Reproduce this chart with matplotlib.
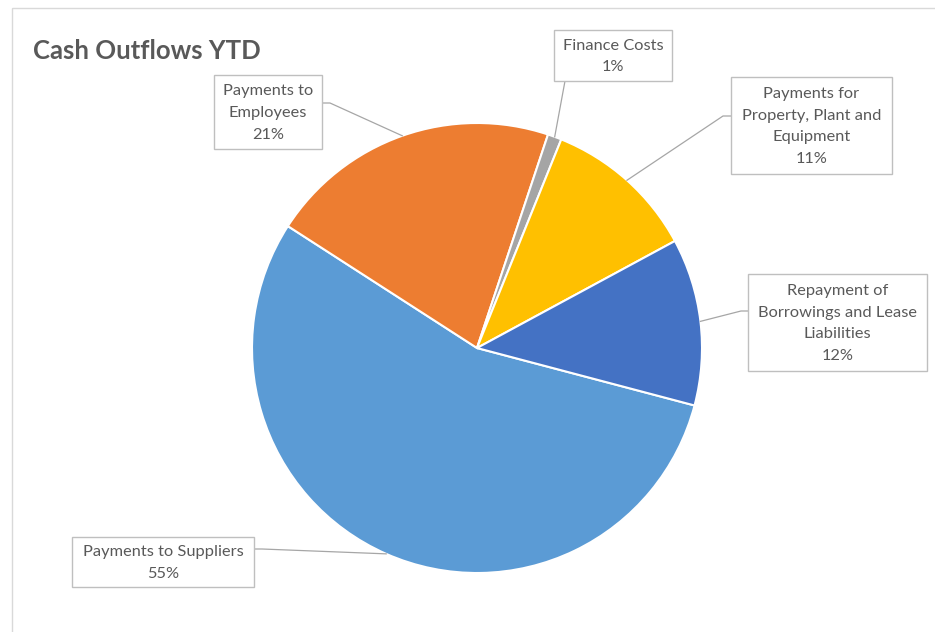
import matplotlib.pyplot as plt
from matplotlib.patches import Rectangle
import numpy as np

plt.rcParams['font.family'] = ['Lato', 'DejaVu Sans']

# cash outflows, in the order the slices run clockwise
categories = ['Payments to Suppliers', 'Payments to Employees', 'Finance Costs',
              'Payments for Property, Plant and Equipment',
              'Repayment of Borrowings and Lease Liabilities']
shares = [55, 21, 1, 11, 12]
label_text = ['Payments to Suppliers\n55%',
              'Payments to\nEmployees\n21%',
              'Finance Costs\n1%',
              'Payments for\nProperty, Plant and\nEquipment\n11%',
              'Repayment of\nBorrowings and Lease\nLiabilities\n12%']
colors = ['#5B9BD5', '#ED7D31', '#A5A5A5', '#FFC000', '#4472C4']

W, H = 935, 632
fig = plt.figure(figsize=(W / 100, H / 100), dpi=100)
ax = fig.add_axes([0, 0, 1, 1])

cx, cy, r = 477, 348, 225
wedges, _ = ax.pie(shares, colors=colors, startangle=14.8, counterclock=True,
                   center=(cx, cy), radius=r, frame=True,
                   wedgeprops=dict(edgecolor='white', linewidth=1.5))
ax.set_xlim(0, W)
ax.set_ylim(H, 0)
ax.set_aspect('equal')
ax.axis('off')

# chart area border
ax.add_patch(Rectangle((12, 8), 960, 700, fill=False, ec='#D9D9D9', lw=1))

# label boxes (x0, y0, x1, y1) and the elbow where the leader leaves the box
boxes = [(72, 537, 254, 587), (214, 75, 322, 149), (554, 30, 672, 81),
         (731, 77, 892, 174), (748, 274, 927, 371)]
elbows = [[(254, 549), (262, 549)], [(322, 103), (330, 103)],
          [(565, 81)], [(731, 116), (723, 116)], [(748, 311), (741, 311)]]

for w, txt, (x0, y0, x1, y1), elb in zip(wedges, label_text, boxes, elbows):
    mid = np.deg2rad((w.theta1 + w.theta2) / 2)
    ax_pt = (cx + r * np.cos(mid), cy + r * np.sin(mid))
    pts = elb + [ax_pt]
    ax.plot([p[0] for p in pts], [p[1] for p in pts], color='#A6A6A6', lw=0.9, zorder=1)
    ax.add_patch(Rectangle((x0, y0), x1 - x0, y1 - y0, fc='white', ec='#BFBFBF',
                           lw=1, zorder=3))
    ax.text((x0 + x1) / 2, (y0 + y1) / 2 + 1, txt, ha='center', va='center',
            fontsize=11.8, color='#595959', linespacing=1.72, zorder=4)

ax.text(33, 51, 'Cash Outflows YTD', fontsize=18.5, fontweight='bold',
        color='#595959', ha='left', va='center')

fig.savefig('out.png', dpi=100)
